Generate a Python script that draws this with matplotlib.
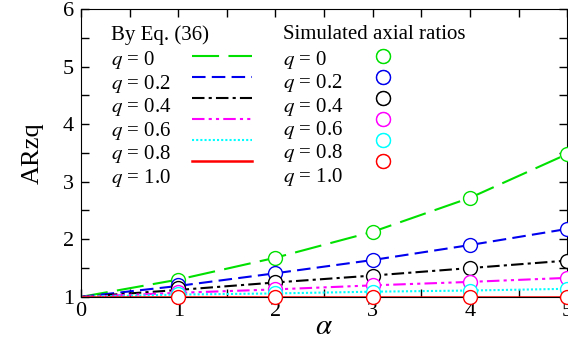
import matplotlib.pyplot as plt
from matplotlib.lines import Line2D
from matplotlib.ticker import MultipleLocator

plt.rcParams['font.family'] = ['Liberation Serif', 'DejaVu Serif']
plt.rcParams['mathtext.fontset'] = 'stix'

# данные
q_labels = ['0', '0.2', '0.4', '0.6', '0.8', '1.0']
alpha_line = [0, 1, 2, 3, 4, 5]
eq_q0 = [1.0, 1.30, 1.68, 2.13, 2.72, 3.48]
eq_q02 = [1.0, 1.19, 1.41, 1.64, 1.90, 2.18]
eq_q04 = [1.0, 1.12, 1.25, 1.37, 1.50, 1.63]
eq_q06 = [1.0, 1.07, 1.13, 1.20, 1.26, 1.33]
eq_q08 = [1.0, 1.04, 1.06, 1.09, 1.11, 1.14]
eq_q10 = [1.0, 1.0, 1.0, 1.0, 1.0, 1.0]

alpha_sim = [1, 2, 3, 4, 5]
sim_q0 = [1.30, 1.67, 2.13, 2.72, 3.48]
sim_q02 = [1.20, 1.41, 1.64, 1.90, 2.18]
sim_q04 = [1.15, 1.25, 1.37, 1.50, 1.63]
sim_q06 = [1.09, 1.13, 1.20, 1.26, 1.33]
sim_q08 = [1.05, 1.07, 1.09, 1.11, 1.14]
sim_q10 = [1.0, 1.0, 1.0, 1.0, 1.0]

eq_all = [eq_q0, eq_q02, eq_q04, eq_q06, eq_q08, eq_q10]
sim_all = [sim_q0, sim_q02, sim_q04, sim_q06, sim_q08, sim_q10]
colors = ['#00e000', '#0000ee', 'black', '#ff00ff', '#00ffff', '#ff0000']
dashes = [(13, 4.5), (6.5, 3), (6, 2, 1.5, 2), (6, 2, 1.5, 2, 1.5, 2), (1, 1), None]

FS = 15

fig = plt.figure(figsize=(5.68, 3.44), dpi=100)
ax = fig.add_axes([0.1426, 0.137, 0.856, 0.837])

line_handles = []
for y, c, d in zip(eq_all, colors, dashes):
    if d is None:
        ln, = ax.plot(alpha_line, y, color=c, lw=1.8, linestyle='-')
    else:
        ln, = ax.plot(alpha_line, y, color=c, lw=1.5, dashes=d)
    line_handles.append(ln)

mark_handles = []
for y, c in zip(sim_all, colors):
    m, = ax.plot(alpha_sim, y, 'o', ms=10, mfc='white', mec=c, mew=1.0,
                 clip_on=False, zorder=3, linestyle='none')
    mark_handles.append(m)

labels = ['$q$ = ' + s for s in q_labels]
blank = [Line2D([], [], linestyle='none') for _ in labels]


# легенда: текст и образцы отдельно, чтобы текст был выровнен влево
def add_legend(handles, labs, title, x, y, hl, pad):
    leg = ax.legend(handles, labs, title=title, loc='upper left',
                    bbox_to_anchor=(x, y), frameon=False, fontsize=FS,
                    title_fontsize=FS, handlelength=hl, handletextpad=pad,
                    labelspacing=0.07, borderpad=0, borderaxespad=0,
                    alignment='left', numpoints=1)
    leg._legend_box.sep = 3.5
    ax.add_artist(leg)
    return leg


add_legend(blank, labels, 'By Eq. (36)', 0.062, 0.945, 0, 0)
add_legend(line_handles, [' '] * 6, ' ', 0.228, 0.945, 2.9, 0)
add_legend(blank, labels, 'Simulated axial ratios', 0.416, 0.945, 0, 0)
add_legend(mark_handles, [' '] * 6, ' ', 0.600, 0.945, 1.0, 0)

ax.set_xlim(0, 5)
ax.set_ylim(1, 6)
ax.xaxis.set_major_locator(MultipleLocator(1))
ax.xaxis.set_minor_locator(MultipleLocator(0.5))
ax.yaxis.set_major_locator(MultipleLocator(1))
ax.yaxis.set_minor_locator(MultipleLocator(0.5))
ax.tick_params(which='both', direction='in', top=True, right=True,
               length=6, width=1, labelsize=16)
ax.tick_params(axis='x', pad=4)
ax.tick_params(axis='y', pad=5)
ax.set_xlabel(r'$\alpha$', fontsize=21, labelpad=-5)
ax.set_ylabel('ARzq', fontsize=19, labelpad=14)

fig.savefig('out.png', dpi=100)
